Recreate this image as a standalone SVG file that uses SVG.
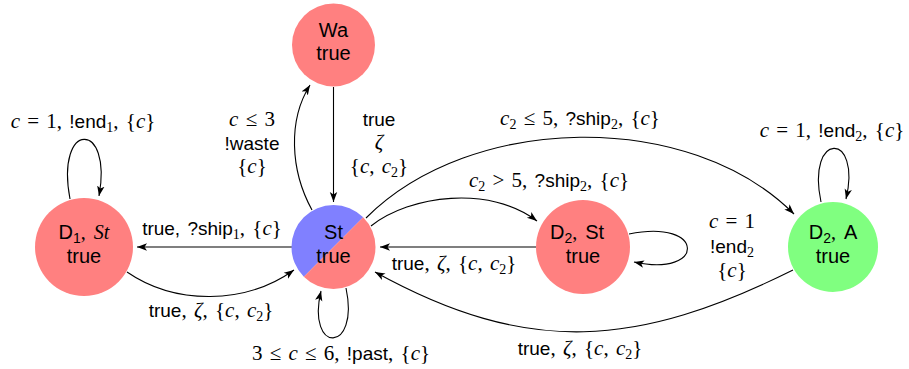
<svg xmlns="http://www.w3.org/2000/svg" width="909" height="369" viewBox="0 0 909 369">
<style>
.red{fill:#ff8080}
.green{fill:#80ff80}
.blue{fill:#8080ff}
.nt{font-family:"Liberation Sans",Arial,sans-serif;font-size:20px;fill:#000;text-anchor:middle;word-spacing:3px}
.lbl{font-family:"Liberation Serif","Times New Roman",serif;font-size:21px;fill:#000;text-anchor:middle;word-spacing:2px}
.sf{font-family:"Liberation Sans",Arial,sans-serif;font-size:19px}
.i{font-style:italic}
.sb{font-size:14px}
.e{fill:none;stroke:#000;stroke-width:1.1;marker-end:url(#ah)}
</style>
<defs>
<marker id="ah" markerWidth="10" markerHeight="10" refX="10" refY="5" orient="auto" markerUnits="userSpaceOnUse" viewBox="0 0 10 10">
<path d="M0,1.3 L10,5 L0,8.7 L2.5,5 Z" fill="#000"/>
</marker>
</defs>

<g id="connectors">
<path class="e" d="M292,247 L137,247"/>
<path class="e" d="M127,272 C175,305 245,305 294,270"/>
<path class="e" d="M70,199 C55,120 113,120 99,196"/>
<path class="e" d="M312,210 C290,170 288,120 310,85"/>
<path class="e" d="M333.5,87 L333.5,202"/>
<path class="e" d="M366,218 C471,113 689,109 794,214"/>
<path class="e" d="M371,226 C410,195 490,185 537,221"/>
<path class="e" d="M536,247 L380,247"/>
<path class="e" d="M629,234 C706,218 706,278 634,262"/>
<path class="e" d="M821,202 C806,131 862,131 846,199"/>
<path class="e" d="M793,270 C638,347 529,357 375,272"/>
<path class="e" d="M346,288 C360,354 306,354 321,291"/>
</g>

<g id="labels">
<text class="lbl" x="83" y="128"><tspan class="i">c</tspan> = 1, <tspan class="sf">!end</tspan><tspan class="sb" dy="4">1</tspan><tspan dy="-4">, {</tspan><tspan class="i">c</tspan>}</text>
<text class="lbl" x="212" y="235"><tspan class="sf">true, ?ship</tspan><tspan class="sb" dy="4">1</tspan><tspan dy="-4">, {</tspan><tspan class="i">c</tspan>}</text>
<text class="lbl" x="211" y="317"><tspan class="sf">true</tspan>, <tspan class="i">ζ</tspan>, {<tspan class="i">c</tspan>, <tspan class="i">c</tspan><tspan class="sb" dy="4">2</tspan><tspan dy="-4">}</tspan></text>
<text class="lbl" x="252" y="126"><tspan class="i">c</tspan> ≤ 3</text>
<text class="lbl" x="252" y="150"><tspan class="sf">!waste</tspan></text>
<text class="lbl" x="252" y="173">{<tspan class="i">c</tspan>}</text>
<text class="lbl" x="379" y="126"><tspan class="sf">true</tspan></text>
<text class="lbl i" x="379" y="149">ζ</text>
<text class="lbl" x="379" y="173">{<tspan class="i">c</tspan>, <tspan class="i">c</tspan><tspan class="sb" dy="4">2</tspan><tspan dy="-4">}</tspan></text>
<text class="lbl" x="580" y="125"><tspan class="i">c</tspan><tspan class="sb" dy="4">2</tspan><tspan dy="-4"> ≤ 5, </tspan><tspan class="sf">?ship</tspan><tspan class="sb" dy="4">2</tspan><tspan dy="-4">, {</tspan><tspan class="i">c</tspan>}</text>
<text class="lbl" x="549" y="187"><tspan class="i">c</tspan><tspan class="sb" dy="4">2</tspan><tspan dy="-4"> &gt; 5, </tspan><tspan class="sf">?ship</tspan><tspan class="sb" dy="4">2</tspan><tspan dy="-4">, {</tspan><tspan class="i">c</tspan>}</text>
<text class="lbl" x="454" y="270"><tspan class="sf">true</tspan>, <tspan class="i">ζ</tspan>, {<tspan class="i">c</tspan>, <tspan class="i">c</tspan><tspan class="sb" dy="4">2</tspan><tspan dy="-4">}</tspan></text>
<text class="lbl" x="732" y="228"><tspan class="i">c</tspan> = 1</text>
<text class="lbl" x="732" y="253"><tspan class="sf">!end</tspan><tspan class="sb" dy="4">2</tspan></text>
<text class="lbl" x="732" y="277">{<tspan class="i">c</tspan>}</text>
<text class="lbl" x="832" y="137"><tspan class="i">c</tspan> = 1, <tspan class="sf">!end</tspan><tspan class="sb" dy="4">2</tspan><tspan dy="-4">, {</tspan><tspan class="i">c</tspan>}</text>
<text class="lbl" x="580" y="355"><tspan class="sf">true</tspan>, <tspan class="i">ζ</tspan>, {<tspan class="i">c</tspan>, <tspan class="i">c</tspan><tspan class="sb" dy="4">2</tspan><tspan dy="-4">}</tspan></text>
<text class="lbl" x="341" y="360">3 ≤ <tspan class="i">c</tspan> ≤ 6, <tspan class="sf">!past</tspan>, {<tspan class="i">c</tspan>}</text>
</g>

<g id="node-wa">
<circle class="red" cx="333.5" cy="45" r="41.5"/>
<text class="nt" x="333.5" y="37">Wa</text>
<text class="nt" x="333.5" y="60">true</text>
</g>
<g id="node-d1">
<circle class="red" cx="84" cy="247" r="49"/>
<text class="nt" x="84" y="239">D<tspan font-size="14" dy="4">1</tspan><tspan dy="-4" font-family="Liberation Serif">, </tspan><tspan font-family="Liberation Serif" font-style="italic">St</tspan></text>
<text class="nt" x="84" y="263">true</text>
</g>
<g id="node-st">
<path class="blue" d="M363.2,217.3 A42,42 0 0 0 303.8,276.7 Z"/>
<path class="red" d="M363.2,217.3 A42,42 0 0 1 303.8,276.7 Z"/>
<text class="nt" x="333.5" y="239">St</text>
<text class="nt" x="333.5" y="263">true</text>
</g>
<g id="node-d2st">
<circle class="red" cx="583" cy="247" r="47"/>
<text class="nt" x="577" y="239">D<tspan font-size="14" dy="4">2</tspan><tspan dy="-4" font-family="Liberation Serif">, </tspan>St</text>
<text class="nt" x="583" y="263">true</text>
</g>
<g id="node-d2a">
<circle class="green" cx="833" cy="247" r="45"/>
<text class="nt" x="833" y="239">D<tspan font-size="14" dy="4">2</tspan><tspan dy="-4" font-family="Liberation Serif">, </tspan>A</text>
<text class="nt" x="833" y="263">true</text>
</g>
</svg>
